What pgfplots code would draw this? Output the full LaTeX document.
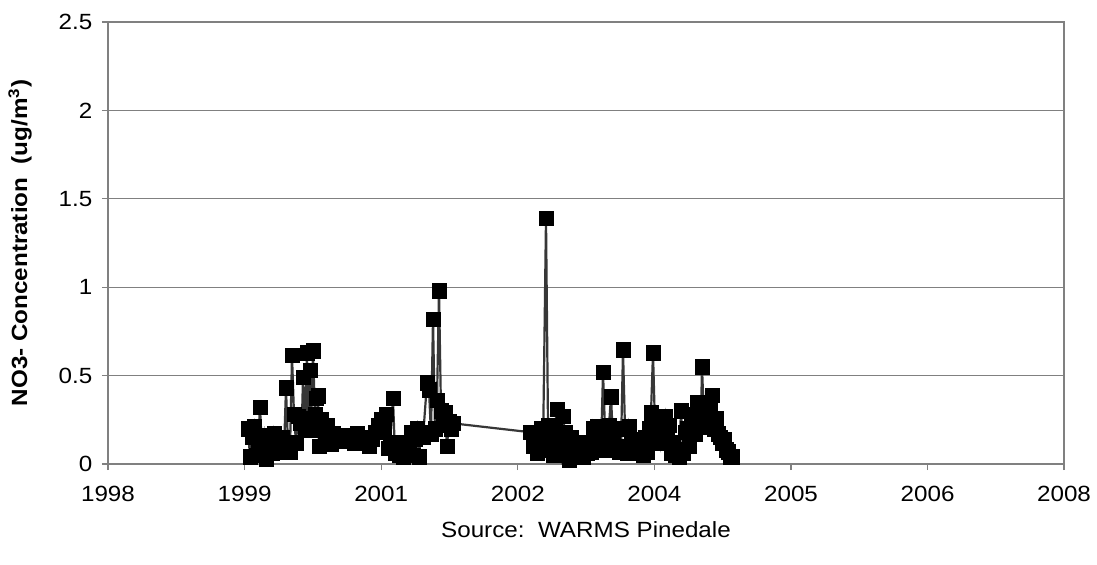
\documentclass[border=0pt]{standalone}
\usepackage{pgfplots}
\pgfplotsset{compat=1.18}
\usepackage{fontspec}
\setmainfont[FakeStretch=1.1]{Liberation Sans}
\definecolor{gridgray}{RGB}{128,128,128}
\definecolor{linegray}{RGB}{55,55,55}

\begin{document}
\begin{tikzpicture}
  \fontsize{11}{13}\selectfont
  \path[use as bounding box] (-54pt,-50pt) rectangle (494.5pt,232pt);
  \begin{axis}[
      scale only axis,
      width=478pt,
      height=221pt,
      at={(0pt,0pt)},
      anchor=origin,
      xmin=0, xmax=956,
      ymin=0, ymax=2.5,
      xtick={0,136.6,273.2,409.8,546.4,683,819.6,956},
      xticklabels={1998,1999,2001,2002,2004,2005,2006,2008},
      ytick={0,0.5,1,1.5,2,2.5},
      yticklabels={0,0.5,1,1.5,2,2.5},
      tick align=outside,
      tick pos=left,
      major tick length=3pt,
      tick style={gridgray, line width=0.6pt},
      ymajorgrids,
      grid style={gridgray, line width=0.6pt},
      axis line style={gridgray, line width=0.8pt},
      /pgf/number format/assume math mode=true,
      ticklabel style={font=\fontsize{11}{13}\selectfont},
      xticklabel style={yshift=-4pt},
      yticklabel style={xshift=-1pt},
      xlabel={Source:\ \ WARMS Pinedale},
      xlabel style={at={(axis description cs:0.5,-0.149)}, anchor=center, font=\fontsize{11}{13}\selectfont},
      ylabel={\textbf{NO3- Concentration\ \ (ug/m\textsuperscript{3})}},
      ylabel style={at={(axis description cs:-0.092,0.5)}, anchor=center, font=\fontsize{11}{13}\selectfont},
    ]
    \addplot[linegray, line width=1.1pt, mark=square*, mark size=3.6pt,
      mark options={fill=black, draw=black, line width=0.3pt}] coordinates {
        (140,0.20) (142,0.04) (144,0.15) (146,0.21) (148,0.05) (150,0.12)
        (152,0.32) (154,0.08) (156,0.16) (158,0.03) (160,0.10) (162,0.14)
        (164,0.06) (166,0.17) (168,0.09) (170,0.12) (172,0.07) (174,0.15)
        (176,0.08) (178,0.43) (180,0.10) (182,0.07) (184,0.615) (186,0.28)
        (188,0.12) (190,0.27) (192,0.23) (194,0.26) (195,0.49) (197,0.21)
        (199,0.63) (200,0.25) (202,0.53) (203,0.19) (205,0.64) (207,0.28)
        (208,0.37) (210,0.385) (211,0.10) (213,0.25) (215,0.20) (217,0.12)
        (219,0.22) (221,0.14) (223,0.11) (225,0.17) (228,0.14) (231,0.15)
        (234,0.13) (237,0.16) (240,0.14) (243,0.15) (246,0.12) (249,0.17)
        (252,0.14) (255,0.15) (258,0.12) (261,0.10) (264,0.14) (267,0.18)
        (270,0.22) (273,0.25) (276,0.20) (278,0.28) (280,0.09) (282,0.12)
        (285,0.37) (287,0.06) (289,0.10) (291,0.05) (293,0.08) (295,0.04)
        (297,0.12) (299,0.06) (301,0.10) (303,0.18) (305,0.05) (307,0.14)
        (309,0.20) (311,0.04) (313,0.18) (315,0.15) (319,0.46) (321,0.42)
        (323,0.17) (325,0.82) (327,0.20) (329,0.36) (331,0.98) (333,0.30)
        (335,0.22) (337,0.29) (339,0.10) (341,0.24) (343,0.20) (345,0.23)
        (422,0.18) (425,0.10) (427,0.15) (429,0.06) (431,0.12) (433,0.20)
        (435,0.08) (438,1.39) (440,0.22) (441,0.10) (443,0.15) (445,0.05)
        (447,0.22) (449,0.31) (451,0.12) (453,0.05) (455,0.27) (457,0.18)
        (459,0.10) (461,0.02) (463,0.15) (465,0.08) (467,0.12) (469,0.05)
        (471,0.10) (473,0.06) (475,0.04) (477,0.09) (479,0.06) (481,0.12)
        (483,0.07) (485,0.20) (487,0.12) (489,0.21) (491,0.17) (493,0.08)
        (495,0.52) (497,0.20) (499,0.15) (501,0.22) (503,0.38) (505,0.14)
        (507,0.08) (509,0.20) (511,0.07) (513,0.10) (515,0.645) (517,0.20)
        (519,0.06) (521,0.21) (523,0.14) (525,0.12) (527,0.08) (529,0.13)
        (531,0.06) (533,0.10) (535,0.05) (537,0.15) (539,0.07) (541,0.20)
        (543,0.29) (545,0.63) (547,0.21) (549,0.16) (551,0.25) (553,0.12)
        (555,0.20) (557,0.27) (559,0.15) (561,0.22) (563,0.06) (565,0.12)
        (567,0.05) (569,0.08) (571,0.04) (573,0.30) (575,0.06) (577,0.18)
        (579,0.20) (581,0.10) (583,0.24) (585,0.28) (587,0.17) (589,0.35)
        (591,0.22) (593,0.27) (594,0.55) (596,0.25) (598,0.30) (600,0.21)
        (602,0.31) (604,0.39) (606,0.20) (608,0.26) (610,0.17) (612,0.15)
        (614,0.12) (616,0.14) (618,0.08) (620,0.07) (622,0.04) (624,0.04)
      };
  \end{axis}
\end{tikzpicture}
\end{document}
